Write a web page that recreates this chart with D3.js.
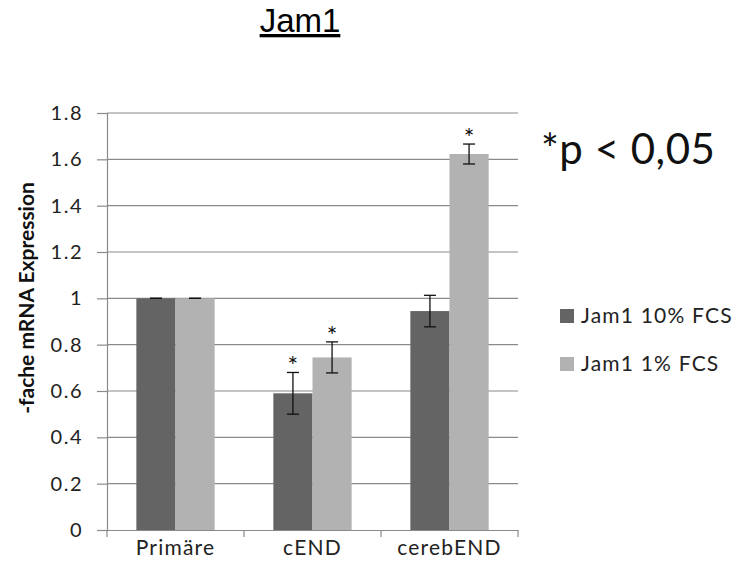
<!DOCTYPE html>
<html>
<head>
<meta charset="utf-8">
<script src="https://cdn.jsdelivr.net/npm/d3@7"></script>
<style>
  html, body { margin: 0; padding: 0; background: #fff; }
  svg { display: block; }
</style>
</head>
<body>
<svg id="chart" width="738" height="578"></svg>
<script>
// Categories, series and tick values
const categories = ["Primäre", "cEND", "cerebEND"];
const seriesNames = ["Jam1 10% FCS", "Jam1 1% FCS"];
const values10 = [1.0, 0.59, 0.945];
const values1 = [1.0, 0.745, 1.623];
const errors10 = [0.0, 0.09, 0.068];
const errors1 = [0.0, 0.067, 0.043];
const significant10 = [false, true, false];
const significant1 = [false, true, true];
const yTicks = [0, 0.2, 0.4, 0.6, 0.8, 1, 1.2, 1.4, 1.6, 1.8];

const seriesColors = ["#646464", "#b2b2b2"];
const font = "Lato, 'Open Sans', sans-serif";
const axisGray = "#8a8a8a";

const svg = d3.select("#chart");
const plotLeft = 107, plotRight = 518, plotTop = 113, plotBottom = 530;

const x = d3.scaleBand().domain(categories).range([plotLeft, plotRight]);
const y = d3.scaleLinear().domain([0, 1.8]).range([plotBottom, plotTop]);

// Gap width 150% of a bar: group = 2 bars, gap = 1.5 bars
const barW = x.bandwidth() / 3.5;
const xs = d3.scaleBand().domain([0, 1]).range([0, 2 * barW]);

// Title
svg.append("text")
  .attr("x", 300).attr("y", 32)
  .attr("text-anchor", "middle")
  .attr("font-family", "'Liberation Sans', Arial, sans-serif")
  .attr("font-size", 33)
  .attr("fill", "#000")
  .attr("text-decoration", "underline")
  .text("Jam1");

// Gridlines
svg.append("g")
  .selectAll("line")
  .data(yTicks.filter(t => t > 0))
  .join("line")
  .attr("x1", plotLeft).attr("x2", plotRight)
  .attr("y1", d => y(d)).attr("y2", d => y(d))
  .attr("stroke", axisGray).attr("stroke-width", 1.2);

// Y axis
const yAxis = svg.append("g")
  .attr("transform", `translate(${plotLeft},0)`)
  .call(d3.axisLeft(y).tickValues(yTicks).tickSize(10).tickPadding(14)
    .tickFormat(d => d === 0 || d === 1 ? String(d) : d3.format(".1f")(d)));
yAxis.select(".domain").attr("stroke", axisGray).attr("stroke-width", 1.2);
yAxis.selectAll(".tick line").attr("stroke", axisGray).attr("stroke-width", 1.2);
yAxis.selectAll(".tick text")
  .attr("font-family", font).attr("font-size", 20)
  .attr("letter-spacing", 1.5).attr("fill", "#222");

// Bars
const groups = svg.append("g").selectAll("g")
  .data(categories)
  .join("g")
  .attr("transform", d => `translate(${x(d) + (x.bandwidth() - 2 * barW) / 2},0)`);

const seriesVals = [values10, values1];
const seriesErr = [errors10, errors1];
const seriesSig = [significant10, significant1];

groups.each(function (cat, i) {
  const g = d3.select(this);
  [0, 1].forEach(s => {
    const v = seriesVals[s][i];
    const e = seriesErr[s][i];
    const bx = xs(s);
    g.append("rect")
      .attr("x", bx).attr("width", barW)
      .attr("y", y(v)).attr("height", plotBottom - y(v))
      .attr("fill", seriesColors[s]);
    const cx = bx + barW / 2;
    // error bar
    g.append("line")
      .attr("x1", cx).attr("x2", cx)
      .attr("y1", y(v + e)).attr("y2", y(v - e))
      .attr("stroke", "#111").attr("stroke-width", 1.3);
    [v + e, v - e].forEach(ev => {
      g.append("line")
        .attr("x1", cx - 6).attr("x2", cx + 6)
        .attr("y1", y(ev)).attr("y2", y(ev))
        .attr("stroke", "#111").attr("stroke-width", 1.3);
    });
    if (seriesSig[s][i]) {
      g.append("text")
        .attr("x", cx).attr("y", y(v + e) + 3)
        .attr("text-anchor", "middle")
        .attr("font-family", font).attr("font-size", 25)
        .attr("fill", "#111")
        .text("*");
    }
  });
});

// X axis
const xAxis = svg.append("g")
  .attr("transform", `translate(0,${plotBottom})`)
  .call(d3.axisBottom(x).tickSize(0).tickPadding(10));
xAxis.select(".domain").attr("stroke", axisGray).attr("stroke-width", 1.2);
xAxis.selectAll(".tick text")
  .attr("font-family", font).attr("font-size", 21)
  .attr("letter-spacing", 1.2).attr("fill", "#222");
// category boundary ticks
svg.append("g").selectAll("line")
  .data(categories.map(c => x(c)).concat([plotRight]))
  .join("line")
  .attr("x1", d => d).attr("x2", d => d)
  .attr("y1", plotBottom).attr("y2", plotBottom + 7)
  .attr("stroke", axisGray).attr("stroke-width", 1.2);

// Y axis title
svg.append("text")
  .attr("transform", `translate(34,298) rotate(-90)`)
  .attr("text-anchor", "middle")
  .attr("font-family", font).attr("font-size", 21).attr("font-weight", "bold")
  .attr("fill", "#111")
  .text("-fache mRNA Expression");

// Significance note
svg.append("text")
  .attr("x", 541).attr("y", 164)
  .attr("font-family", font).attr("font-size", 42)
  .attr("letter-spacing", 0.5)
  .attr("fill", "#111")
  .text("*p < 0,05");

// Legend
const legend = svg.append("g").selectAll("g")
  .data(seriesNames)
  .join("g")
  .attr("transform", (d, i) => `translate(560,${309 + i * 48})`);
legend.append("rect")
  .attr("width", 14).attr("height", 14)
  .attr("fill", (d, i) => seriesColors[i]);
legend.append("text")
  .attr("x", 21).attr("y", 14)
  .attr("font-family", font).attr("font-size", 21)
  .attr("letter-spacing", 1.2)
  .attr("fill", "#222")
  .text(d => d);
</script>
</body>
</html>
